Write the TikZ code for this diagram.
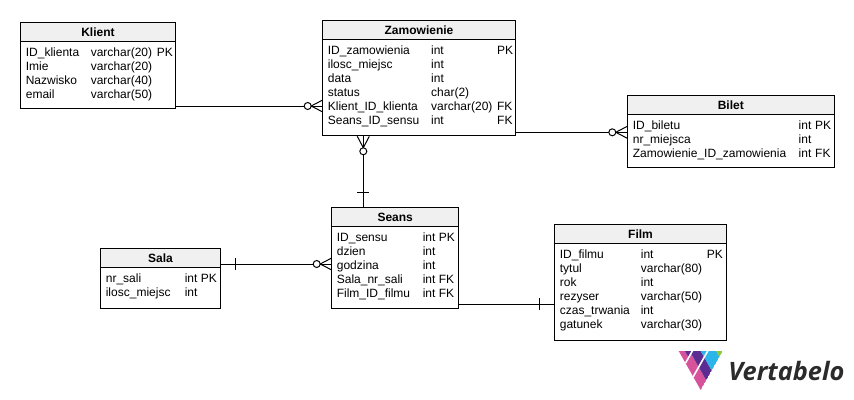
\documentclass[tikz,border=0pt]{standalone}
\usepackage{fontspec}
\setmainfont{Liberation Sans}
\newfontfamily\logofont{Open Sans}
\usepackage{tikz}
\definecolor{headgray}{HTML}{F0F0F0}
\definecolor{logopink}{HTML}{D6529A}
\definecolor{logopurple}{HTML}{5B2C91}
\definecolor{logoblue}{HTML}{2BB5E8}
\definecolor{logogreen}{HTML}{8DC63F}
\definecolor{logotext}{HTML}{2B2B2B}
\newenvironment{rows}[3]{\fontsize{9}{10.5}\selectfont\begin{tabular}[t]{@{}p{#1pt}@{}p{#2pt}@{}p{#3pt}@{}}}{\end{tabular}}
\tikzset{
  x=0.75pt, y=-0.75pt,
  link/.style={line width=0.75pt},
  headbox/.style={draw, line width=0.75pt, fill=headgray, anchor=north west, inner sep=0pt, outer sep=0pt, minimum height=14.6pt, font=\fontsize{9}{10.5}\selectfont\bfseries},
  rowbox/.style={draw, line width=0.75pt, anchor=north west, inner xsep=4pt, inner ysep=0pt, outer sep=0pt, text height=11pt},
  crowfoot/.pic={
    \draw[link] (3.5,0) -- (15,-6) (3.5,0) -- (15,6);
    \draw[link,fill=white] (0,0) circle (3.5);
  },
  tick/.pic={\draw[link] (0,-6) -- (0,6);}
}
\begin{document}
\begin{tikzpicture}
  \useasboundingbox (0,0) rectangle (854,400);
  % tables
  \node[headbox, minimum width=116.25pt] (Klient) at (20.5,22.5) {Klient};
  \node[rowbox, text depth=39.25pt] (KlientRows) at (Klient.south west) {\begin{rows}{48.75}{49.5}{10}
    ID\_klienta & varchar(20) & PK \\
    Imie & varchar(20) & \\
    Nazwisko & varchar(40) & \\
    email & varchar(50) &
  \end{rows}};
  \node[headbox, minimum width=144.75pt] (Zamowienie) at (322.5,20.5) {Zamowienie};
  \node[rowbox, text depth=61pt] (ZamowienieRows) at (Zamowienie.south west) {\begin{rows}{77.5}{49.5}{9.75}
    ID\_zamowienia & int & PK \\
    ilosc\_miejsc & int & \\
    data & int & \\
    status & char(2) & \\
    Klient\_ID\_klienta & varchar(20) & FK \\
    Seans\_ID\_sensu & int & FK
  \end{rows}};
  \node[headbox, minimum width=154.9pt] (Bilet) at (627.5,95.5) {Bilet};
  \node[rowbox, text depth=28.75pt] (BiletRows) at (Bilet.south west) {\begin{rows}{124.4}{12.4}{10.1}
    ID\_biletu & int & PK \\
    nr\_miejsca & int & \\
    Zamowienie\_ID\_zamowienia & int & FK
  \end{rows}};
  \node[headbox, minimum width=95.6pt] (Seans) at (331.5,207.5) {Seans};
  \node[rowbox, text depth=50.1pt] (SeansRows) at (Seans.south west) {\begin{rows}{64.5}{12}{11.1}
    ID\_sensu & int & PK \\
    dzien & int & \\
    godzina & int & \\
    Sala\_nr\_sali & int & FK \\
    Film\_ID\_filmu & int & FK
  \end{rows}};
  \node[headbox, minimum width=90pt] (Sala) at (100.5,248) {Sala};
  \node[rowbox, text depth=19.4pt] (SalaRows) at (Sala.south west) {\begin{rows}{59.25}{12}{10.75}
    nr\_sali & int & PK \\
    ilosc\_miejsc & int &
  \end{rows}};
  \node[headbox, minimum width=129pt] (Film) at (554.5,224.5) {Film};
  \node[rowbox, text depth=61.4pt] (FilmRows) at (Film.south west) {\begin{rows}{60.75}{49.5}{10.75}
    ID\_filmu & int & PK \\
    tytul & varchar(80) & \\
    rok & int & \\
    rezyser & varchar(50) & \\
    czas\_trwania & int & \\
    gatunek & varchar(30) &
  \end{rows}};
  % references
  \draw[link] (KlientRows.east |- 0,106) -- (ZamowienieRows.west |- 0,106);
  \pic at (307.7,106) {crowfoot};
  \draw[link] (ZamowienieRows.east |- 0,132.3) -- (BiletRows.west |- 0,132.3);
  \pic at (612.3,132.3) {crowfoot};
  \draw[link] (Seans.north -| 363.3,0) -- (ZamowienieRows.south -| 363.3,0);
  \pic[rotate=90] at (363.3,151.3) {crowfoot};
  \pic[rotate=90] at (363.3,192.3) {tick};
  \draw[link] (Sala.east |- 0,264) -- (SeansRows.west |- 0,264);
  \pic at (316.7,264) {crowfoot};
  \pic at (235.7,264) {tick};
  \draw[link] (SeansRows.east |- 0,304.3) -- (FilmRows.west |- 0,304.3);
  \pic at (539.3,304.3) {tick};
  % logo
  \begin{scope}[shift={(700.7,390)}, x={(16.5pt,29.25pt)}, y={(-16.5pt,29.25pt)}]
    \clip (0,0) -- (1,0) -- (0,1) -- cycle;
    \foreach \col/\a/\c/\b/\d in {
        logopink/0/.25/0/.34, logopurple/.25/.5/0/.34, logoblue/.5/.85/0/.34, logogreen/.85/1/0/.34,
        logopink/0/.25/.34/.69, logopurple/.25/.5/.34/.69, logoblue/.5/.7/.34/.69,
        logopink/0/.14/.69/1, logopurple/.14/.31/.69/1}
      \fill[\col] (\a,\b) -- (\c,\b) -- (\c,\d) -- (\a,\d) -- cycle;
    \draw[white, line width=1.2pt] (0,.34) -- (1,.34) (0,.69) -- (1,.69);
  \end{scope}
  \node[anchor=base west, inner sep=0pt, text=logotext, font=\logofont\fontsize{19}{19}\selectfont\bfseries\itshape] (Logo) at (728,380) {Vertabelo};
\end{tikzpicture}
\end{document}
